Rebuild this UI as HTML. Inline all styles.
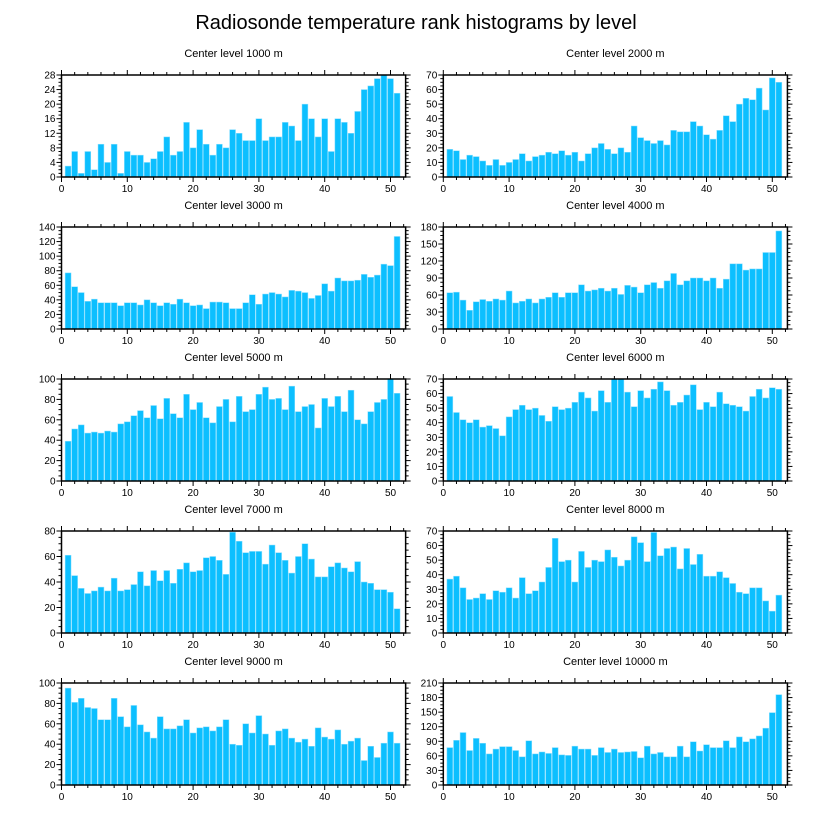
<!DOCTYPE html>
<html><head><meta charset="utf-8"><style>
body{margin:0;background:#fff}
svg{display:block;font-family:"Liberation Sans",sans-serif}
</style></head><body>
<svg id="chart" width="824" height="824" viewBox="0 0 824 824" xmlns="http://www.w3.org/2000/svg">
<rect width="824" height="824" fill="#fff"/>
<text x="416" y="29" font-size="20" text-anchor="middle">Radiosonde temperature rank histograms by level</text>
</svg>
<script>
const panelTitles = ["Center level 1000 m","Center level 2000 m","Center level 3000 m","Center level 4000 m","Center level 5000 m","Center level 6000 m","Center level 7000 m","Center level 8000 m","Center level 9000 m","Center level 10000 m"];
const yMax = [28,70,140,180,100,70,80,70,100,210];
const yStep = [4,10,20,30,20,10,20,10,20,30];
const xTicks = [0,10,20,30,40,50];
const level1000 = [3,7,1,7,2,9,4,9,1,7,6,6,4,5,7,11,6,7,15,8,13,9,6,9,8,13,12,10,10,16,10,11,11,15,14,10,20,16,11,16,7,16,15,12,18,24,25,27,28,27,23];
const level2000 = [19,18,12,15,14,11,8,12,8,10,12,16,11,14,15,17,16,18,15,17,11,16,20,23,19,16,20,17,35,27,25,23,25,22,32,31,31,38,35,29,26,32,42,38,50,54,53,61,46,68,65];
const level3000 = [77,58,50,38,41,36,36,36,32,36,36,33,40,36,32,36,34,41,36,32,33,28,37,37,36,28,28,36,47,34,48,50,48,44,53,52,50,42,46,62,52,70,66,66,67,75,71,74,89,87,127];
const level4000 = [64,65,51,33,48,52,49,53,51,67,46,49,53,46,53,56,64,56,64,64,78,67,69,72,67,72,61,77,74,64,78,82,72,85,98,78,85,90,90,85,90,72,88,115,115,104,106,106,135,135,173];
const level5000 = [39,51,55,47,48,47,49,48,56,58,64,69,62,74,61,81,66,62,85,70,77,62,57,73,80,58,83,68,70,85,92,80,81,70,93,68,73,75,52,81,73,83,68,89,60,56,68,77,80,100,86];
const level6000 = [58,47,42,40,42,37,38,36,31,44,49,52,49,50,45,41,51,49,50,54,61,57,48,62,54,70,70,61,51,62,57,63,68,62,52,54,59,66,49,54,51,61,53,52,51,48,58,63,57,64,63];
const level7000 = [61,45,35,31,33,36,33,43,33,34,38,48,37,49,41,49,39,50,55,48,49,59,60,57,46,79,72,63,64,64,54,69,63,57,47,60,70,58,44,44,52,55,51,48,56,40,39,34,34,32,19];
const level8000 = [37,39,31,23,24,27,23,29,28,31,24,38,27,29,35,45,65,49,50,35,56,45,50,49,57,52,46,50,66,62,49,69,53,58,59,44,58,47,54,39,39,42,38,34,28,27,31,31,22,15,26];
const level9000 = [95,81,85,76,75,64,64,85,67,57,78,59,52,46,67,55,55,58,64,51,56,57,53,57,64,40,39,60,51,68,50,39,53,55,46,42,45,38,56,47,45,54,40,43,46,24,38,27,41,52,41];
const level10000 = [77,92,108,71,96,86,64,74,79,79,71,58,91,64,68,65,77,62,61,80,74,74,61,77,67,74,67,68,69,56,80,64,67,58,58,80,58,89,70,83,77,77,91,77,99,89,95,101,117,149,186];
const seriesList = [level1000,level2000,level3000,level4000,level5000,level6000,level7000,level8000,level9000,level10000];

const NS = "http://www.w3.org/2000/svg";
const svg = document.getElementById("chart");
function mk(tag, attrs, parent){const e=document.createElementNS(NS,tag);for(const k in attrs)e.setAttribute(k,attrs[k]);parent.appendChild(e);return e;}

const xmaxU = 52.3, pxPerU = 6.58, H = 102;
for (let p=0;p<10;p++){
  const col=p%2,row=Math.floor(p/2);
  const x0 = col===0?61.5:443.3;
  const top = 75+152*row, bot = top+H;
  const right = x0+xmaxU*pxPerU;
  const xs = v => x0+v*pxPerU;
  const ys = v => bot - v/yMax[p]*H;
  const g = mk("g",{},svg);
  
  
  const t = mk("text",{x:(x0+right)/2,y:top-18,"font-size":"11","text-anchor":"middle"},g);
  t.textContent = panelTitles[p];
  
  
  const data = seriesList[p];
  data.forEach((v,i)=>{
    const c = i+1;
    const r = mk("rect",{x:xs(c-0.45),y:ys(v),width:0.9*pxPerU,height:bot-ys(v),fill:"#0cbfff",stroke:"#8fe0ff","stroke-width":"0.5"},g);
    
    
  });
  // frame
  const f = mk("rect",{x:x0,y:top,width:right-x0,height:H,fill:"none",stroke:"#000","stroke-width":"1.5"},g);
  
  
  // x ticks
  for(let v=0;v<=52;v+=2){
    const major = v%10===0, L = major?5:3;
    mk("line",{x1:xs(v),x2:xs(v),y1:bot,y2:bot+L,stroke:"#000","stroke-width":"1"},g);
    mk("line",{x1:xs(v),x2:xs(v),y1:top,y2:top-L,stroke:"#000","stroke-width":"1"},g);
  }
  xTicks.forEach(v=>{
    const tl = mk("text",{x:xs(v),y:bot+15,"font-size":"10","text-anchor":"middle"},g);
    tl.textContent = v;
    
    
  });
  // y ticks
  const minor = yStep[p]/4;
  for(let v=0;v<=yMax[p]+1e-9;v+=minor){
    const major = Math.abs(v/yStep[p]-Math.round(v/yStep[p]))<1e-6, L = major?5:3;
    mk("line",{x1:x0,x2:x0-L,y1:ys(v),y2:ys(v),stroke:"#000","stroke-width":"1"},g);
    mk("line",{x1:right,x2:right+L,y1:ys(v),y2:ys(v),stroke:"#000","stroke-width":"1"},g);
  }
  for(let v=0;v<=yMax[p];v+=yStep[p]){
    const yl = mk("text",{x:x0-6,y:ys(v)+3.5,"font-size":"10","text-anchor":"end"},g);
    yl.textContent = v;
    
    
  }
}
</script>
</body></html>
